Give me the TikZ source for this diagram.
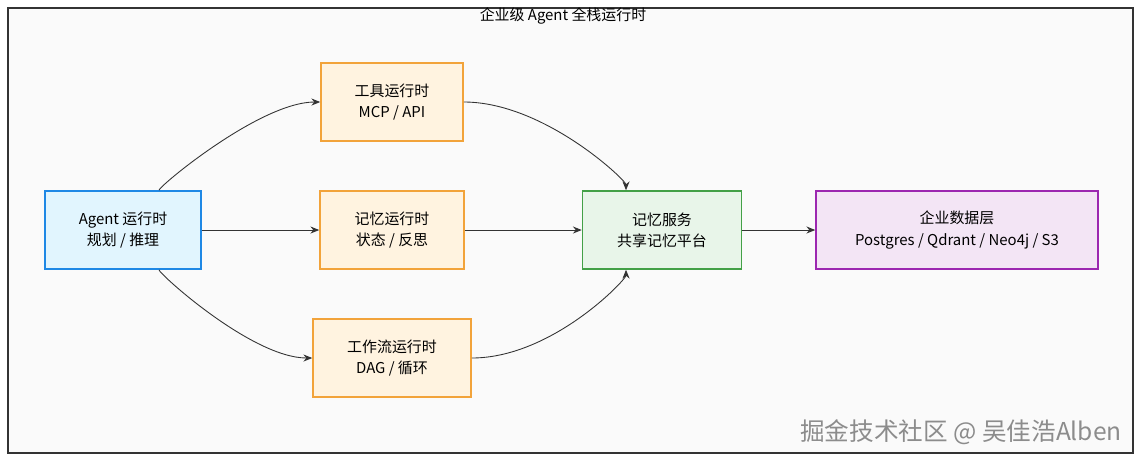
\documentclass[tikz,border=0pt]{standalone}
\usepackage{fontspec}
\setmainfont{Noto Sans CJK SC}
\usetikzlibrary{arrows.meta}
\definecolor{bluefill}{HTML}{E1F5FE}\definecolor{blueline}{HTML}{1E88E5}
\definecolor{orafill}{HTML}{FFF3E0}\definecolor{oraline}{HTML}{F2A33A}
\definecolor{grnfill}{HTML}{E8F5E9}\definecolor{grnline}{HTML}{43A047}
\definecolor{purfill}{HTML}{F3E5F5}\definecolor{purline}{HTML}{9C27B0}
\tikzset{
  box/.style={draw,line width=0.9pt,align=center,font=\fontsize{8.5}{12}\selectfont,
    minimum height=1.56cm,inner sep=0pt},
  flow/.style={-{Stealth[length=5pt,width=4pt]},draw=black!80,line width=0.5pt}
}
\begin{document}
\begin{tikzpicture}[x=0.02cm,y=-0.02cm]
  \useasboundingbox (0,0) rectangle (1143,461);
  \draw[fill=black!2,draw=black!80,line width=0.8pt] (8,8) rectangle (1133,453);
  \node (title) at (563,16) {\fontsize{8.5}{10}\selectfont 企业级 Agent 全栈运行时};

  \node[box,fill=bluefill,draw=blueline,minimum width=3.12cm] (agent) at (123,230) {Agent 运行时\\规划 / 推理};
  \node[box,fill=orafill,draw=oraline,minimum width=2.84cm] (tool) at (392,102) {工具运行时\\MCP / API};
  \node[box,fill=orafill,draw=oraline,minimum width=2.88cm] (memrt) at (392,230) {记忆运行时\\状态 / 反思};
  \node[box,fill=orafill,draw=oraline,minimum width=3.16cm] (wf) at (392,358) {工作流运行时\\DAG / 循环};
  \node[box,fill=grnfill,draw=grnline,minimum width=3.18cm] (memsvc) at (662,230) {记忆服务\\共享记忆平台};
  \node[box,fill=purfill,draw=purline,minimum width=5.64cm] (data) at (957,230) {企业数据层\\Postgres / Qdrant / Neo4j / S3};

  \draw[flow] (agent.north) ++(36,0) .. controls +(0,-4) and +(-60,0) .. (tool.west);
  \draw[flow] (agent) -- (memrt);
  \draw[flow] (agent.south) ++(36,0) .. controls +(0,4) and +(-60,0) .. (wf.west);
  \draw[flow] (tool.east) .. controls +(80,0) and +(0,-10) .. ([xshift=-0.72cm]memsvc.north);
  \draw[flow] (memrt) -- (memsvc);
  \draw[flow] (wf.east) .. controls +(80,0) and +(0,10) .. ([xshift=-0.72cm]memsvc.south);
  \draw[flow] (memsvc) -- (data);

  \node[text=black!45,anchor=east] (mark) at (1128,432) {\fontsize{14}{16}\selectfont 掘金技术社区 @ 吴佳浩Alben};
\end{tikzpicture}
\end{document}
